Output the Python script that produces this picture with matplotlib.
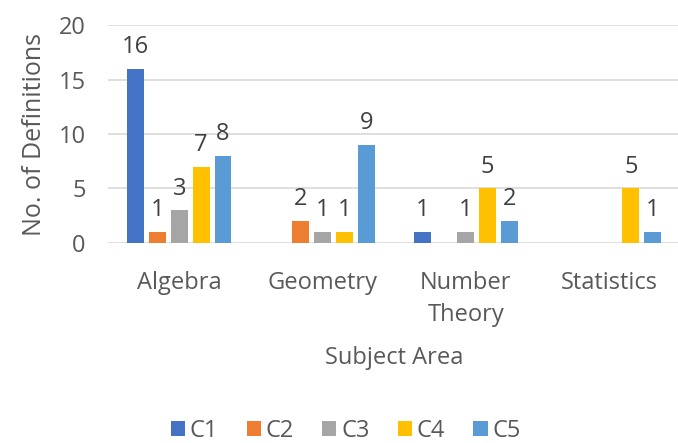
import matplotlib.pyplot as plt
import numpy as np

plt.rcParams['font.family'] = ['Open Sans', 'DejaVu Sans']

areas = ['Algebra', 'Geometry', 'Number\nTheory', 'Statistics']
series = ['C1', 'C2', 'C3', 'C4', 'C5']
c1 = [16, 0, 1, 0]
c2 = [1, 2, 0, 0]
c3 = [3, 1, 1, 0]
c4 = [7, 1, 5, 5]
c5 = [8, 9, 2, 1]
colors = ['#4472C4', '#ED7D31', '#A5A5A5', '#FFC000', '#5B9BD5']

txt = '#595959'
fs = 17
fig = plt.figure(figsize=(6.78, 4.43), dpi=100)
ax = fig.add_axes([0.159, 0.4515, 0.845, 0.492])

x = np.arange(len(areas))
step = 0.152
width = 0.117
for i, (name, vals) in enumerate(zip(series, [c1, c2, c3, c4, c5])):
    pos = x + (i - 2) * step
    bars = ax.bar(pos, vals, width, color=colors[i], label=name, zorder=3)
    for b, v in zip(bars, vals):
        if v > 0:
            ax.annotate(str(v), (b.get_x() + b.get_width() / 2, v),
                        xytext=(0, 7), textcoords='offset points',
                        ha='center', va='bottom', fontsize=fs, color='#404040')

ax.set_xlim(-0.5, 3.5)
ax.set_ylim(0, 20)
ax.set_yticks(np.arange(0, 21, 5))
ax.set_xticks(x)
ax.set_xticklabels(areas, linespacing=1.45)
ax.tick_params(axis='both', length=0, labelsize=fs, colors=txt)
ax.tick_params(axis='x', pad=20)
ax.tick_params(axis='y', pad=16)
ax.grid(axis='y', color='#D9D9D9', linewidth=1.2, zorder=0)
for s in ax.spines.values():
    s.set_visible(False)

ax.set_ylabel('No. of Definitions', fontsize=fs + 1, color=txt, labelpad=8)
ax.set_xlabel('Subject Area', fontsize=fs, color=txt, labelpad=14)

fig.legend(loc='center', bbox_to_anchor=(0.51, 0.028), ncol=5, frameon=False,
           fontsize=fs, labelcolor=txt, handlelength=0.6, handleheight=0.6,
           handletextpad=0.2, columnspacing=1.2)

plt.savefig('out.png', dpi=100)
